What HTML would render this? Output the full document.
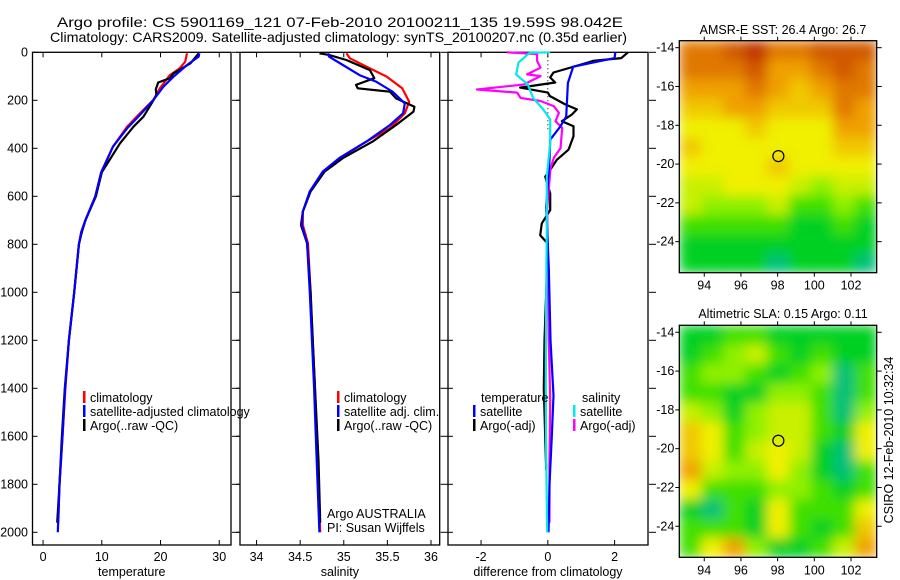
<!DOCTYPE html>
<html><head><meta charset="utf-8"><style>
html,body{margin:0;padding:0;background:#fff;}
svg{display:block;font-family:"Liberation Sans",sans-serif;}
text{font-size:12.5px;fill:#000;}
</style></head><body>
<svg id="c" width="900" height="580" xmlns="http://www.w3.org/2000/svg">
<defs>
<filter id="bl" x="0" y="0" width="1" height="1"><feGaussianBlur stdDeviation="6" edgeMode="duplicate"/></filter>
<clipPath id="cm1"><rect x="679.3" y="40.7" width="197.4" height="232"/></clipPath>
<clipPath id="cm2"><rect x="679.3" y="325.3" width="197.4" height="232"/></clipPath>
</defs>
<text x="57" y="27" textLength="566" lengthAdjust="spacingAndGlyphs" style="font-size:14px">Argo profile: CS 5901169_121 07-Feb-2010 20100211_135 19.59S 98.042E</text>
<text x="50" y="42" textLength="577" lengthAdjust="spacingAndGlyphs" style="font-size:14px">Climatology: CARS2009. Satellite-adjusted climatology: synTS_20100207.nc (0.35d earlier)</text>
<text x="783" y="34" text-anchor="middle">AMSR-E SST: 26.4 Argo: 26.7</text>
<text x="783" y="318" text-anchor="middle">Altimetric SLA: 0.15 Argo: 0.11</text>
<text x="0" y="0" transform="translate(893,440) rotate(-90)" text-anchor="middle">CSIRO 12-Feb-2010 10:32:34</text>
</svg>
<script>
// ---------- data ----------
const depthTicks=[0,200,400,600,800,1000,1200,1400,1600,1800,2000];
const tempTicks=[0,10,20,30];
const salTicks=[34,34.5,35,35.5,36];
const diffTicks=[-2,0,2];
const tClimD=[4,39,66,95,150,198,254,310,393,500,600,700,750,800,1000,1200,1400,1600,1800,1960];
const tClimV=[24.5,24.2,23.3,21.6,19.9,18.8,16.5,14.3,11.9,9.9,8.9,7.2,6.5,6.1,5.3,4.4,3.8,3.3,2.8,2.6];
const tAdjD=[4,18,53,102,143,198,261,317,393,500,600,700,750,800,1000,1200,1400,1600,1800,2000];
const tAdjV=[26.6,26.5,24.5,22.2,20.5,18.8,16.5,14.3,11.9,9.9,8.9,7.2,6.5,6.1,5.3,4.4,3.75,3.3,2.8,2.5];
const tArgoD=[4,46,88,108,126,154,178,212,268,310,379,500,600,700,750,800,1000,1200,1400,1600,1800,1960];
const tArgoV=[26.5,25.1,22.2,21.6,19.6,19.2,19.3,18.5,17.1,15.4,13.1,10.0,9.0,7.2,6.6,6.1,5.3,4.4,3.7,3.2,2.8,2.4];
const sClimD=[4,25,67,101,150,206,254,316,372,441,497,580,664,720,796,1000,1100,1400,1700,2000];
const sClimV=[35.03,35.07,35.3,35.49,35.67,35.75,35.70,35.53,35.26,34.95,34.76,34.61,34.53,34.53,34.59,34.62,34.63,34.67,34.70,34.73];
const sAdjD=[4,18,53,95,122,164,213,254,303,372,441,497,580,664,720,796,1000,1400,1700,2000];
const sAdjV=[34.82,34.83,34.99,35.18,35.37,35.56,35.70,35.68,35.53,35.26,34.95,34.76,34.61,34.53,34.52,34.58,34.61,34.66,34.69,34.72];
const sArgoD=[4,11,32,74,108,136,150,164,192,227,247,303,372,441,497,580,664,720,796,1000,1400,1700,1960];
const sArgoV=[34.72,34.83,35.03,35.30,35.35,35.14,35.16,35.53,35.60,35.81,35.80,35.60,35.33,34.99,34.78,34.62,34.53,34.51,34.58,34.62,34.67,34.71,34.73];
const dTSatD=[0,24,60,128,268,310,364,450,644,900,1200,1430,1600,1800,2000];
const dTSatV=[2.02,2.0,0.76,0.6,0.55,0.37,0.07,0.05,-0.05,0.03,0.08,0.17,0.12,0.05,0.02];
const dTArgoD=[0,24,36,43,84,105,126,147,168,182,217,238,259,287,308,350,406,448,490,518,588,657,713,762,797,1000,1200,1400,1600,1740];
const dTArgoV=[2.4,2.2,1.35,1.2,0.17,0.07,0.22,-0.83,0.0,0.06,0.52,0.87,0.72,0.42,0.77,0.77,0.62,0.27,0.07,-0.08,0.07,0.07,-0.18,-0.23,0.0,-0.05,-0.1,-0.12,-0.08,-0.05];
const dSSatD=[0,2,43,92,134,190,238,280,378,518,727,1000,1400,1700,2000];
const dSSatV=[0.07,-0.55,-0.88,-0.95,-0.6,-0.44,-0.14,0.07,0.07,-0.03,-0.03,-0.05,-0.06,-0.05,-0.02];
const dSArgoD=[0,7,36,64,92,99,134,155,168,190,203,224,252,287,315,400,440,483,650,900,1200,1450,1700,1960];
const dSArgoV=[-1.22,-0.32,-0.32,-0.22,-0.62,-0.22,-0.72,-2.12,-0.92,-0.82,-0.22,0.18,0.33,0.23,0.43,0.38,0.18,0.08,-0.02,0.0,0.03,0.07,0.05,0.05];
const latTicks=[14,16,18,20,22,24];
const lonTicks=[94,96,98,100,102];
const sstGrid=["8 8 9 10 8 8 9 9 9","8 8 8 9 7 7 8 9 8","7 7 7 8 7 6 7 8 8","6 6 7 7 6 6 6 8 7","5 5 5 6 5 5 5 7 7","6 5 5 5 5 5 5 6 6","5 5 5 5 6 5 5 5 5","4 4 5 5 5 4 3 4 4","4 3 3 3 4 2 2 3 2","2 2 2 2 2 1 1 2 1","1 1 1 1 1 1 1 1 1","1 1 1 1 0 1 1 1 0"];
const slaGrid=["1 1 2 2 1 1 1 1 1","1 2 3 4 2 1 2 1 1","2 3 3 2 1 2 3 0 2","2 2 1 1 3 3 2 0 2","4 3 1 3 4 4 2 0 3","6 5 2 3 4 4 2 1 5","6 5 2 4 5 4 1 0 5","7 4 3 3 5 3 1 0 2","5 2 2 2 3 3 2 1 2","1 0 2 1 5 2 2 2 5","2 2 2 1 5 2 1 2 6","2 5 7 3 1 1 2 4 7"];
const palette=["#00c078","#00d020","#40e000","#90f000","#c8f000","#f0f000","#f0c800","#f0a000","#e07800","#d05800","#c03000"];
const argoLon=98.04, argoLat=19.59;

// ---------- helpers ----------
const svg=document.getElementById('c');
const NS='http://www.w3.org/2000/svg';
function mk(tag,attrs,parent){const e=document.createElementNS(NS,tag);for(const k in attrs)e.setAttribute(k,attrs[k]);(parent||svg).appendChild(e);return e;}
const TOP=52.3, BOT=545, D0=52.3, DS=0.24;
const yD=d=>D0+d*DS;

function panel(name,x0,x1,vmin,vmax,ticks,fmt,xlabel,tickSide){
  const g=mk('g',{});
  
  
  const xs=v=>x0+(v-vmin)/(vmax-vmin)*(x1-x0);
  const fr=mk('rect',{x:x0,y:TOP,width:x1-x0,height:BOT-TOP,fill:'none',stroke:'#000','stroke-width':1.3},g);
  
  
  ticks.forEach(t=>{
    const x=xs(t);
    mk('line',{x1:x,x2:x,y1:BOT,y2:BOT-5,stroke:'#000'},g);
    mk('line',{x1:x,x2:x,y1:TOP,y2:TOP+5,stroke:'#000'},g);
    const tx=mk('text',{x:x,y:BOT+16,'text-anchor':'middle'},g);
    tx.textContent=fmt(t);
    
    
  });
  depthTicks.forEach(d=>{
    const y=yD(d);
    if(tickSide==='left'){mk('line',{x1:x0,x2:x0+5,y1:y,y2:y,stroke:'#000'},g);}
    if(tickSide==='leftout'){mk('line',{x1:x0-4,x2:x0,y1:y,y2:y,stroke:'#000'},g);}
    mk('line',{x1:x1+1,x2:x1+8,y1:y,y2:y,stroke:'#000'},g);
  });
  const xl=mk('text',{x:(x0+x1)/2,y:576,'text-anchor':'middle'},g);
  xl.textContent=xlabel;
  
  
  return {g,xs};
}
function line(p,D,V,color,nm){
  const pts=D.map((d,i)=>p.xs(V[i]).toFixed(1)+','+yD(d).toFixed(1)).join(' ');
  const pl=mk('polyline',{points:pts,fill:'none',stroke:color,'stroke-width':2.2,'stroke-linejoin':'round'},p.g);
  
  
}
function legend(g,x,y,color,label,nm){
  if(color) mk('rect',{x:x,y:y-11,width:2.5,height:12,fill:color},g);
  const t=mk('text',{x:x+7,y:y},g);
  t.textContent=label;
  
  
}

depthTicks.forEach(d=>{
  const t=mk('text',{x:28,y:yD(d)+4,'text-anchor':'end'});
  t.textContent=d;
  
  
});

const p1=panel('temperature',32.5,231,-1.8,32,tempTicks,v=>v,'temperature','left');
line(p1,tClimD,tClimV,'#ff0000','temp-climatology-line');
line(p1,tArgoD,tArgoV,'#000000','temp-argo-line');
line(p1,tAdjD,tAdjV,'#0000ff','temp-satellite-adjusted-line');
legend(p1.g,83,402,'#ff0000','climatology','temp-legend-climatology');
legend(p1.g,83,416,'#0000ff','satellite-adjusted climatology','temp-legend-satellite');
legend(p1.g,83,430,'#000000','Argo(..raw -QC)','temp-legend-argo');

const p2=panel('salinity',240,439.7,33.81,36.1,salTicks,v=>v,'salinity','leftout');
line(p2,sClimD,sClimV,'#ff0000','sal-climatology-line');
line(p2,sArgoD,sArgoV,'#000000','sal-argo-line');
line(p2,sAdjD,sAdjV,'#0000ff','sal-satellite-adjusted-line');
legend(p2.g,337,402,'#ff0000','climatology','sal-legend-climatology');
legend(p2.g,337,416,'#0000ff','satellite adj. clim.','sal-legend-satellite');
legend(p2.g,337,430,'#000000','Argo(..raw -QC)','sal-legend-argo');
legend(p2.g,320,518,null,'Argo AUSTRALIA','argo-australia-label');
legend(p2.g,320,532,null,'PI: Susan Wijffels','pi-label');

const p3=panel('difference',448,648,-2.99,3.0,diffTicks,v=>v,'difference from climatology','left');
const z=mk('line',{x1:p3.xs(0),x2:p3.xs(0),y1:yD(0),y2:yD(330),stroke:'#000','stroke-dasharray':'1,3'},p3.g);


line(p3,dTArgoD,dTArgoV,'#000000','diff-temp-argo-line');
line(p3,dSArgoD,dSArgoV,'#ff00ff','diff-sal-argo-line');
line(p3,dTSatD,dTSatV,'#0000ff','diff-temp-satellite-line');
line(p3,dSSatD,dSSatV,'#00e8f0','diff-sal-satellite-line');
legend(p3.g,474,402,null,'temperature','diff-legend-temp-header');
legend(p3.g,473,416,'#0000ff','satellite','diff-legend-temp-satellite');
legend(p3.g,473,430,'#000000','Argo(-adj)','diff-legend-temp-argo');
legend(p3.g,575,402,null,'salinity','diff-legend-sal-header');
legend(p3.g,573,416,'#00e8f0','satellite','diff-legend-sal-satellite');
legend(p3.g,573,430,'#ff00ff','Argo(-adj)','diff-legend-sal-argo');

function map(name,top,grid,clip){
  const L=679.3,W=197.4,H=232;
  const g=mk('g',{});
  
  
  const lonMin=92.64,lonMax=103.4,latMin=13.64,latMax=25.6;
  const xs=v=>L+(v-lonMin)/(lonMax-lonMin)*W;
  const ys=v=>top+(v-latMin)/(latMax-latMin)*H;
  const cg=mk('g',{'clip-path':'url(#'+clip+')'},g);
  const fg=mk('g',{filter:'url(#bl)'},cg);
  const rows=grid.length;
  grid.forEach((r,i)=>{
    const cells=r.trim().split(/\s+/).map(Number);
    const cw=W/cells.length, ch=H/rows;
    cells.forEach((c,j)=>{
      const rc=mk('rect',{x:L+j*cw,y:top+i*ch,width:cw+0.5,height:ch+0.5,fill:palette[c]},fg);
      
      
    });
  });
  mk('rect',{x:L,y:top,width:W,height:H,fill:'none',stroke:'#000','stroke-width':1.3},g);
  latTicks.forEach(v=>{
    const y=ys(v);
    mk('line',{x1:L+W,x2:L+W+5,y1:y,y2:y,stroke:'#000'},g);
    mk('line',{x1:L-4,x2:L,y1:y,y2:y,stroke:'#000'},g);
    const t=mk('text',{x:L-5,y:y+4,'text-anchor':'end'},g);
    t.textContent='-'+v;
    
    
  });
  lonTicks.forEach(v=>{
    const x=xs(v);
    mk('line',{x1:x,x2:x,y1:top+H,y2:top+H+4,stroke:'#000'},g);
    mk('line',{x1:x,x2:x,y1:top-4,y2:top,stroke:'#000'},g);
    const t=mk('text',{x:x,y:top+H+17,'text-anchor':'middle'},g);
    t.textContent=v;
    
    
  });
  const c=mk('circle',{cx:xs(argoLon),cy:ys(argoLat),r:5.5,fill:'none',stroke:'#000','stroke-width':1.2},g);
  
  
}
map('sst-map',40.7,sstGrid,'cm1');
map('sla-map',325.3,slaGrid,'cm2');
</script>
</body></html>
